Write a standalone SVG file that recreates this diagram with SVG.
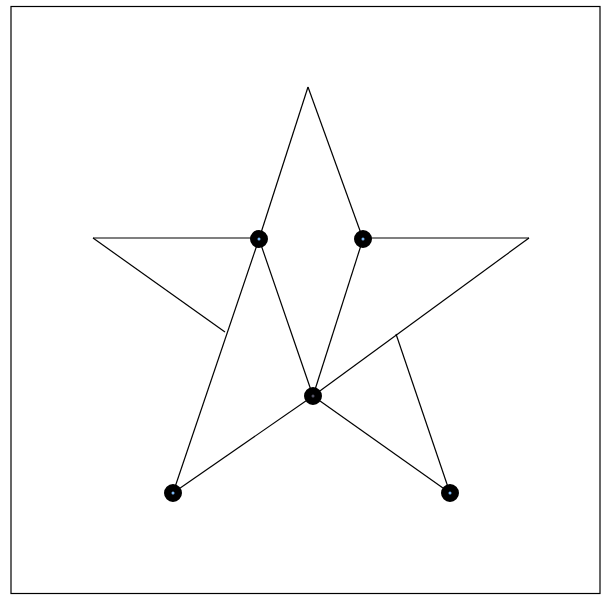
<svg xmlns="http://www.w3.org/2000/svg" width="607" height="596" viewBox="0 0 607 596">
<style>
.edge{stroke:#000;stroke-width:1.2;fill:none}
.node circle.o{fill:#000;stroke:#000;stroke-width:2}
.node circle.i{fill:#7ab8f5}
</style>
<rect x="0" y="0" width="607" height="596" fill="#fff"/>
<rect x="11" y="6.5" width="589" height="587" fill="none" stroke="#000" stroke-width="1.2"/>
<g id="connectors">
<line class="edge" x1="308" y1="87" x2="259" y2="239"/>
<line class="edge" x1="308" y1="87" x2="363" y2="239"/>
<line class="edge" x1="93" y1="238" x2="259" y2="238"/>
<line class="edge" x1="363" y1="238" x2="529" y2="238"/>
<line class="edge" x1="93" y1="238" x2="225" y2="332"/>
<line class="edge" x1="529" y1="238" x2="313" y2="396"/>
<line class="edge" x1="259" y1="239" x2="173" y2="493"/>
<line class="edge" x1="259" y1="239" x2="313" y2="396"/>
<line class="edge" x1="363" y1="239" x2="313" y2="396"/>
<line class="edge" x1="173" y1="493" x2="313" y2="396"/>
<line class="edge" x1="313" y1="396" x2="450" y2="493"/>
<line class="edge" x1="396" y1="334" x2="450" y2="493"/>
</g>
<g id="n1" class="node"><circle class="o" cx="259" cy="239" r="8"/><circle class="i" cx="259" cy="239" r="1.5"/></g>
<g id="n2" class="node"><circle class="o" cx="363" cy="239" r="8"/><circle class="i" cx="363" cy="239" r="1.5"/></g>
<g id="n3" class="node"><circle class="o" cx="313" cy="396" r="8"/><circle class="i" cx="313" cy="396" r="1.5" style="fill:#556"/></g>
<g id="n4" class="node"><circle class="o" cx="173" cy="493" r="8"/><circle class="i" cx="173" cy="493" r="1.5"/></g>
<g id="n5" class="node"><circle class="o" cx="450" cy="493" r="8"/><circle class="i" cx="450" cy="493" r="1.5"/></g>
</svg>
